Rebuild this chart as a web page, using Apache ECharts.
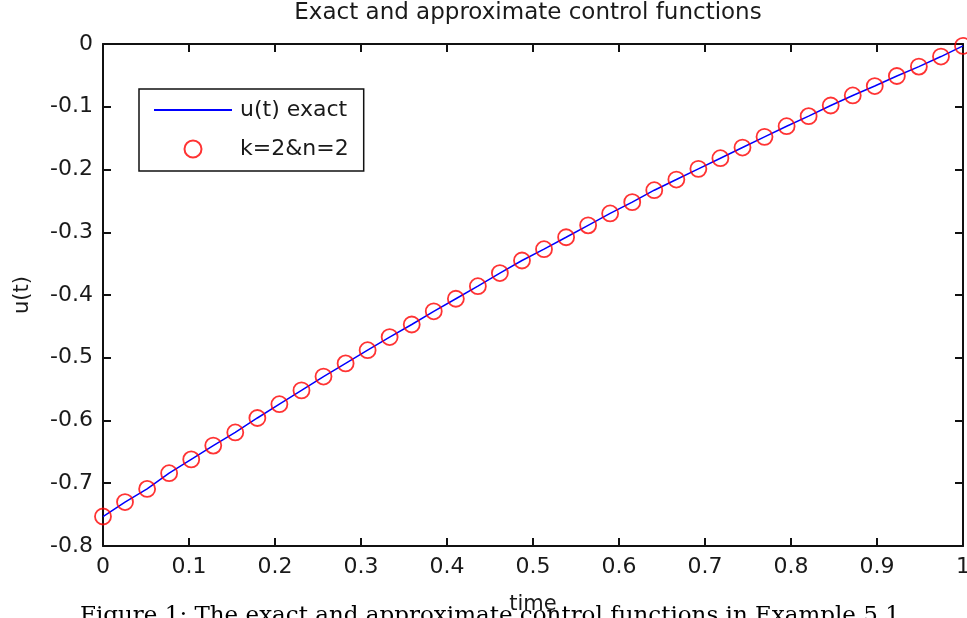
<!DOCTYPE html>
<html>
<head>
<meta charset="utf-8">
<script src="https://cdn.jsdelivr.net/npm/echarts@6/dist/echarts.min.js"></script>
<style>
  html, body { margin: 0; padding: 0; background: #fff; }
  #chart { width: 967px; height: 618px; }
</style>
</head>
<body>
<div id="chart"></div>
<script>
// sample times (40 evenly spaced points on [0, 1])
const times = [0, 0.0256, 0.0513, 0.0769, 0.1026, 0.1282, 0.1538, 0.1795, 0.2051, 0.2308,
  0.2564, 0.2821, 0.3077, 0.3333, 0.3590, 0.3846, 0.4103, 0.4359, 0.4615, 0.4872,
  0.5128, 0.5385, 0.5641, 0.5897, 0.6154, 0.6410, 0.6667, 0.6923, 0.7179, 0.7436,
  0.7692, 0.7949, 0.8205, 0.8462, 0.8718, 0.8974, 0.9231, 0.9487, 0.9744, 1];

// u(t) exact (blue line)
const uExact = [-0.753, -0.730, -0.709, -0.684, -0.662, -0.640, -0.619, -0.596, -0.574, -0.552,
  -0.530, -0.509, -0.488, -0.467, -0.447, -0.426, -0.406, -0.386, -0.365, -0.345,
  -0.327, -0.308, -0.289, -0.270, -0.252, -0.233, -0.216, -0.199, -0.182, -0.165,
  -0.148, -0.131, -0.115, -0.098, -0.082, -0.067, -0.051, -0.036, -0.020, -0.003];

// k=2&n=2 approximation (red circles)
const uApprox = [-0.753, -0.730, -0.709, -0.684, -0.662, -0.640, -0.619, -0.596, -0.574, -0.552,
  -0.530, -0.509, -0.488, -0.467, -0.447, -0.426, -0.406, -0.386, -0.365, -0.345,
  -0.327, -0.308, -0.289, -0.270, -0.252, -0.233, -0.216, -0.199, -0.182, -0.165,
  -0.148, -0.131, -0.115, -0.098, -0.082, -0.067, -0.051, -0.036, -0.020, -0.003];

const seriesNames = ['u(t) exact', 'k=2&n=2'];
const titleText = 'Exact and approximate control functions';
const captionText = 'Figure 1: The exact and approximate control functions in Example 5.1';

const FONT = 'DejaVu Sans';
const TXT = '#1a1a1a';
const AXIS = '#111';

const chart = echarts.init(document.getElementById('chart'), null, { renderer: 'canvas' });

const boxAxis = (extra) => Object.assign({
  type: 'value',
  axisLine: { show: true, onZero: false, lineStyle: { color: AXIS, width: 2 } },
  axisTick: { show: true, inside: true, length: 8, lineStyle: { color: AXIS, width: 2 } },
  splitLine: { show: false },
}, extra);

chart.setOption({
  animation: false,
  backgroundColor: '#fff',
  title: {
    text: titleText,
    left: 528,
    top: 2,
    padding: 0,
    textAlign: 'center',
    textStyle: { fontFamily: FONT, fontSize: 23, fontWeight: 'normal', color: TXT },
  },
  grid: { left: 103, right: 4, top: 44, bottom: 72, show: false, outerBoundsMode: 'none', containLabel: false },
  legend: {
    orient: 'vertical',
    left: 139,
    top: 89,
    padding: [10, 15, 11, 15],
    itemWidth: 78,
    itemHeight: 17,
    itemGap: 17,
    backgroundColor: '#fff',
    borderColor: '#111',
    borderWidth: 1.5,
    borderRadius: 0,
    textStyle: { fontFamily: FONT, fontSize: 22, color: TXT, lineHeight: 22, padding: [0, 0, 0, 3] },
    data: [
      { name: seriesNames[0], icon: 'path://M0,0 L78,0 L78,2 L0,2 Z' },
      { name: seriesNames[1] },
    ],
  },
  xAxis: [
    boxAxis({
      min: 0, max: 1, interval: 0.1,
      name: 'time',
      nameLocation: 'middle',
      nameGap: 48,
      nameTextStyle: { fontFamily: FONT, fontSize: 21, color: TXT },
      axisLabel: { fontFamily: FONT, fontSize: 22, color: TXT, margin: 10 },
    }),
    boxAxis({ position: 'top', min: 0, max: 1, interval: 0.1, axisLabel: { show: false } }),
  ],
  yAxis: [
    boxAxis({
      min: -0.8, max: 0, interval: 0.1,
      name: 'u(t)',
      nameLocation: 'middle',
      nameGap: 70,
      nameRotate: 90,
      nameTextStyle: { fontFamily: FONT, fontSize: 21, color: TXT },
      axisLabel: { fontFamily: FONT, fontSize: 22, color: TXT, margin: 10 },
    }),
    boxAxis({ position: 'right', min: -0.8, max: 0, interval: 0.1, axisLabel: { show: false } }),
  ],
  series: [
    {
      name: seriesNames[0],
      type: 'line',
      xAxisIndex: 0,
      yAxisIndex: 0,
      symbol: 'none',
      lineStyle: { color: '#0000ff', width: 1.5 },
      itemStyle: { color: '#0000ff' },
      data: times.map((t, i) => [t, uExact[i]]),
      z: 2,
    },
    {
      name: seriesNames[1],
      type: 'scatter',
      xAxisIndex: 0,
      yAxisIndex: 0,
      symbol: 'circle',
      symbolSize: 16,
      clip: false,
      itemStyle: { color: 'rgba(0,0,0,0)', borderColor: '#ff0000', borderWidth: 1.8 },
      data: times.map((t, i) => [t, uApprox[i]]),
      z: 3,
    },
  ],
  graphic: [
    {
      type: 'text',
      left: 80,
      top: 605,
      z: 0,
      style: { text: captionText, font: '23px "DejaVu Serif"', fill: '#000' },
    },
  ],
});
</script>
</body>
</html>
